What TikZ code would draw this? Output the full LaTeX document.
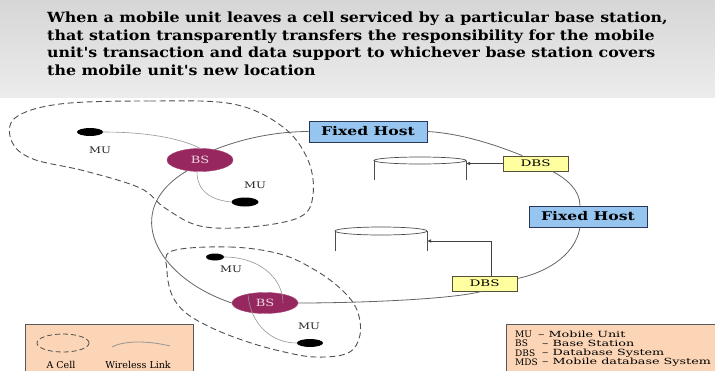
\documentclass[tikz,border=0pt]{standalone}
\usepackage{fontspec}
\setmainfont{DejaVu Serif}
\newfontfamily\widefont[FakeStretch=1.3]{DejaVu Serif}
\newfontfamily\legfont[FakeStretch=1.5]{DejaVu Serif}
\newfontfamily\titlefont[FakeStretch=1.13]{DejaVu Serif}
\usetikzlibrary{shapes.geometric,arrows.meta,calc}
\definecolor{hdtop}{RGB}{214,214,214}
\definecolor{hdbot}{RGB}{236,236,236}
\definecolor{fhblue}{RGB}{150,198,240}
\definecolor{fhedge}{RGB}{40,55,90}
\definecolor{dbsyel}{RGB}{255,255,160}
\definecolor{dbsedge}{RGB}{80,80,60}
\definecolor{bsfill}{RGB}{150,40,95}
\definecolor{bstext}{RGB}{240,215,228}
\definecolor{peach}{RGB}{251,213,181}
\definecolor{ringc}{RGB}{100,100,100}
\definecolor{cellc}{RGB}{80,80,80}
\definecolor{linkc}{RGB}{150,150,150}
\tikzset{
  fhbox/.style={draw=fhedge, fill=fhblue, line width=0.8pt, minimum width=118pt, minimum height=21pt, inner sep=0pt, font=\widefont\bfseries\fontsize{12}{12}\selectfont},
  dbsbox/.style={draw=dbsedge, fill=dbsyel, line width=0.8pt, minimum width=65pt, minimum height=15pt, inner sep=0pt, font=\legfont\fontsize{9}{9}\selectfont},
  bsnode/.style={ellipse, fill=bsfill, draw=bsfill!85!white, minimum width=66pt, minimum height=23pt, inner sep=0pt, text=bstext, font=\widefont\fontsize{10}{10}\selectfont},
  mudot/.style={ellipse, fill=black, inner sep=0pt},
  mulabel/.style={font=\widefont\fontsize{9}{9}\selectfont, text=black!85, inner sep=0pt},
  ring/.style={draw=ringc, line width=0.8pt},
  cell/.style={draw=cellc, line width=0.9pt, dash pattern=on 6pt off 3.5pt},
  link/.style={draw=linkc, line width=0.6pt},
  cyl/.style={draw=black!70, line width=0.7pt},
  arr/.style={draw=black!75, line width=0.7pt, -{Latex[length=4pt,width=3.5pt]}},
  abbr/.style={font=\fontsize{9}{9}\selectfont, inner sep=0pt, anchor=west},
  legtext/.style={font=\legfont\fontsize{8.5}{9}\selectfont, inner sep=0pt, anchor=west},
  legcap/.style={font=\fontsize{9.5}{9.5}\selectfont, anchor=base, inner sep=0pt},
}
\begin{document}
\begin{tikzpicture}[x=1pt,y=-1pt]
\useasboundingbox (0,0) rectangle (715,370);
% header band
\shade[top color=hdtop, bottom color=hdbot] (0,0) rectangle (715,97);
\node[anchor=north west, align=left, inner sep=0pt, font=\titlefont\bfseries\fontsize{14}{17.7}\selectfont] (title) at (47,11.5)
 {When a mobile unit leaves a cell serviced by a particular base station,\\
  that station transparently transfers the responsibility for the mobile\\
  unit's transaction and data support to whichever base station covers\\
  the mobile unit's new location};

% cells
\draw[cell] plot[smooth cycle, tension=0.6] coordinates {(60,104) (150,101) (233,104) (283,127) (308,160) (313,195) (300,217) (250,227) (200,226) (165,208) (140,188) (85,171) (33,159) (12,142) (15,118)};
\draw[cell] plot[smooth cycle, tension=0.6] coordinates {(172,251) (230,247) (280,254) (315,270) (342,290) (357,310) (360,335) (348,353) (315,357) (280,351) (245,341) (212,328) (186,313) (172,295) (167,270)};

% cylinders
\draw[cyl] (420,160.5) ellipse [x radius=46pt, y radius=3.5pt];
\draw[cyl] (374,160.5) -- (374,180);
\draw[cyl] (466,160.5) -- (466,180);
\coordinate (cylA) at (466,163.5);
\draw[cyl] (381,231) ellipse [x radius=46pt, y radius=4pt];
\draw[cyl] (335,231) -- (335,251);
\draw[cyl] (427,231) -- (427,251);
\coordinate (cylB) at (427,241);

% nodes
\node[fhbox] (fh1) at (368,131.5) {Fixed Host};
\node[fhbox] (fh2) at (588,216.5) {Fixed Host};
\node[dbsbox] (dbs1) at (535.5,163.5) {DBS};
\node[dbsbox] (dbs2) at (484.5,283.5) {DBS};
\node[bsnode] (bs1) at (200,160) {BS};
\node[bsnode, minimum height=21pt] (bs2) at (265,303) {BS};
\node[mudot, minimum width=26pt, minimum height=8pt] (mu1) at (90,132) {};
\node[mudot, minimum width=27pt, minimum height=9pt] (mu2) at (245,202) {};
\node[mudot, minimum width=18pt, minimum height=7pt] (mu3) at (215,257) {};
\node[mudot, minimum width=26pt, minimum height=8pt] (mu4) at (310,343) {};
\node[mulabel] (l1) at (100,150) {MU};
\node[mulabel] (l2) at (255,185) {MU};
\node[mulabel] (l3) at (231,269) {MU};
\node[mulabel] (l4) at (309,326) {MU};

% ring network
\draw[ring] (bs1.35) .. controls +(30,-12) and +(-30,0) .. (fh1.west);
\draw[ring] (fh1.east) .. controls +(35,2) and +(-25,-10) .. ($(dbs1.north west)!0.3!(dbs1.north east)$);
\draw[ring] ([xshift=17pt]dbs1.south) .. controls +(15,8) and +(0,-15) .. ([xshift=-8pt]fh2.north);
\draw[ring] ([xshift=-8pt]fh2.south) .. controls +(-5,30) and +(25,-5) .. ([yshift=5pt]dbs2.east);
\draw[ring] ([xshift=-3pt]dbs2.south) .. controls +(-30,8) and +(60,0) .. (bs2.east);
\draw[ring] (bs2.west) .. controls +(-75,-25) and +(-68,40) .. (bs1.220);

% arrows to databases
\draw[arr] (dbs1.west) -- (cylA);
\draw[arr] ([xshift=6.5pt]dbs2.north) |- (cylB);

% wireless links
\draw[link] (mu1.east) .. controls +(50,0) and +(-15,-8) .. (bs1.north);
\draw[link] ([xshift=-3pt]bs1.south) .. controls +(0,20) and +(-20,-2) .. (mu2.west);
\draw[link] (mu3.east) .. controls +(35,0) and +(0,-25) .. ([xshift=18pt]bs2.center);
\draw[link] ([xshift=-17pt,yshift=8pt]bs2.center) .. controls +(3,30) and +(-25,0) .. (mu4.west);

% legend left
\draw[draw=black!65, fill=peach, line width=0.6pt] (25,324) rectangle (193,380);
\draw[cell, line width=0.8pt, dash pattern=on 5pt off 3pt] (63,343) ellipse [x radius=26pt, y radius=9pt];
\draw[link, line width=0.8pt] (112,347) .. controls (125,340) and (150,341) .. (170,346);
\node[legcap] at (61,368) {A Cell};
\node[legcap] at (138,368) {Wireless Link};

% legend right
\draw[draw=black!65, fill=peach, line width=0.6pt] (506,324) rectangle (720,380);
\node[abbr] at (515,334) {MU};
\node[abbr] at (515,343.5) {BS};
\node[abbr] at (515,353) {DBS};
\node[abbr] at (515,362.5) {MDS};
\node[legtext] at (538,334) {– Mobile Unit};
\node[legtext] at (542,343.5) {– Base Station};
\node[legtext] at (542,353) {– Database System};
\node[legtext] at (542,362.5) {– Mobile database System};
\end{tikzpicture}
\end{document}
